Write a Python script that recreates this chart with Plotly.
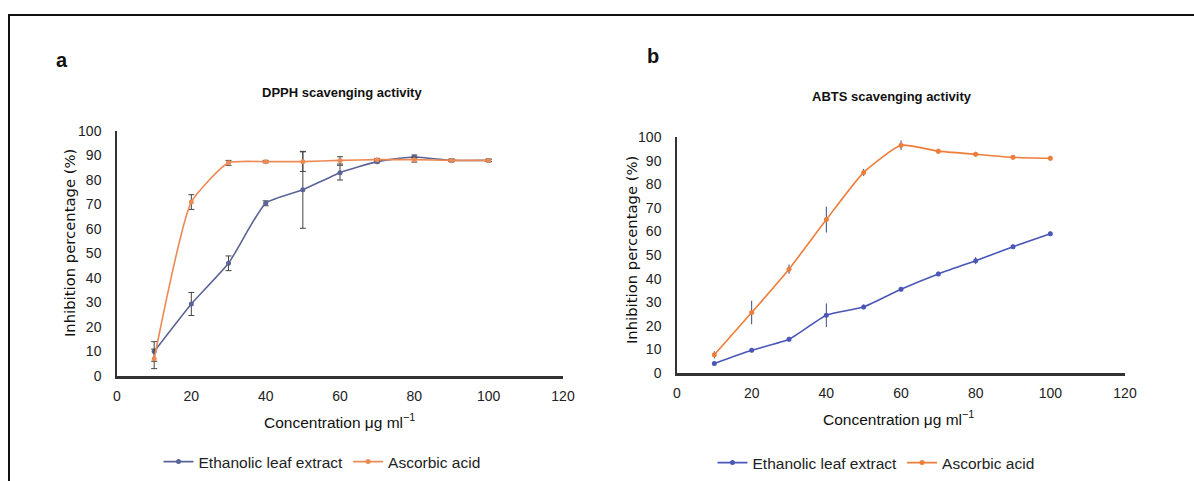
import plotly.graph_objects as go

conc = [10, 20, 30, 40, 50, 60, 70, 80, 90, 100]

# Panel a: DPPH scavenging activity
dpph_ext = [10, 29.4, 46, 70.5, 76, 83, 87.5, 89.4, 88, 88]
dpph_ext_err = [4, 4.7, 3, 1, 15.7, 3, 0.5, 0.8, 0.5, 0.5]
dpph_asc = [7, 71, 87, 87.5, 87.5, 88, 88.3, 88.3, 88, 88]
dpph_asc_err = [4, 3, 1, 0.5, 4, 1.5, 0.5, 1, 0.5, 0.5]

# Panel b: ABTS scavenging activity
abts_ext = [4, 9.6, 14.3, 24.5, 28, 35.5, 42, 47.6, 53.5, 59]
abts_ext_err = [0.8, 0.8, 1, 5, 1, 1, 1, 1.5, 1, 1]
abts_asc = [7.7, 25.6, 44, 65, 85, 96.5, 94, 92.7, 91.4, 91]
abts_asc_err = [1.5, 5, 2, 5.5, 1.5, 2, 1, 1, 1, 1]

x_ticks = [0, 20, 40, 60, 80, 100, 120]
y_ticks = [0, 10, 20, 30, 40, 50, 60, 70, 80, 90, 100]

W, H = 1194, 481
REG = "Liberation Sans, Arial, sans-serif"
WIDE = "DejaVu Sans, Verdana, sans-serif"

BLUE_A = "#5b6496"
ORANGE_A = "#ec8a55"
BLUE_B = "#4a57b8"
ORANGE_B = "#ee7d3a"

fig = go.Figure()

def add(x, y, err, name, color, xa, ya, legend, errcolor, cap):
    fig.add_trace(go.Scatter(
        x=x, y=y, name=name, mode="lines+markers",
        line=dict(color=color, width=1.6, shape="spline", smoothing=0.5),
        marker=dict(color=color, size=5),
        error_y=dict(type="data", array=err, visible=True, color=errcolor,
                     thickness=1, width=cap),
        xaxis=xa, yaxis=ya, legend=legend,
    ))

add(conc, dpph_ext, dpph_ext_err, "Ethanolic leaf extract", BLUE_A, "x", "y", "legend", "#444", 3)
add(conc, dpph_asc, dpph_asc_err, "Ascorbic acid", ORANGE_A, "x", "y", "legend", "#444", 3)
add(conc, abts_ext, abts_ext_err, "Ethanolic leaf extract", BLUE_B, "x2", "y2", "legend2", "#3a4a8a", 0)
add(conc, abts_asc, abts_asc_err, "Ascorbic acid", ORANGE_B, "x2", "y2", "legend2", "#3a4a8a", 0)

def px(v):
    return v / W

def py(v):
    return 1 - v / H

axis_common = dict(showgrid=False, zeroline=False, ticks="outside", showline=True,
                   tickcolor="rgba(0,0,0,0)", linecolor="#333",
                   tickfont=dict(family=REG, size=14, color="#222"))

fig.update_layout(
    width=W, height=H,
    margin=dict(l=0, r=0, t=0, b=0, autoexpand=False),
    paper_bgcolor="white", plot_bgcolor="white",
    font=dict(family=REG, color="#222"),
    xaxis=dict(domain=[px(117), px(563)], range=[0, 120], tickvals=x_ticks, ticklen=5,
               anchor="y", linewidth=2.5, **axis_common),
    yaxis=dict(domain=[py(376), py(131)], range=[0, 100], tickvals=y_ticks, ticklen=11,
               anchor="x", linewidth=1.5, **axis_common),
    xaxis2=dict(domain=[px(677), px(1125)], range=[0, 120], tickvals=x_ticks, ticklen=5,
                anchor="y2", linewidth=2.5, **axis_common),
    yaxis2=dict(domain=[py(373), py(137)], range=[0, 100], tickvals=y_ticks, ticklen=11,
                anchor="x2", linewidth=1.5, **axis_common),
    legend=dict(orientation="h", x=px(322), xanchor="center", y=py(462), yanchor="middle",
                font=dict(family=REG, size=15.5, color="#222"), bgcolor="rgba(0,0,0,0)",
                itemwidth=30),
    legend2=dict(orientation="h", x=px(876), xanchor="center", y=py(463), yanchor="middle",
                 font=dict(family=REG, size=15.5, color="#222"), bgcolor="rgba(0,0,0,0)",
                 itemwidth=30),
    showlegend=True,
)

ann = [
    dict(text="<b>a</b>", x=px(62), y=py(60), size=20, fam=REG),
    dict(text="<b>b</b>", x=px(653), y=py(56), size=20, fam=REG),
    dict(text="<b>DPPH scavenging activity</b>", x=px(342), y=py(93), size=13, fam=REG),
    dict(text="<b>ABTS scavenging activity</b>", x=px(892), y=py(97), size=13, fam=REG),
    dict(text="Concentration μg ml<sup>−1</sup>", x=px(340), y=py(421), size=15.5, fam=REG),
    dict(text="Concentration μg ml<sup>−1</sup>", x=px(898), y=py(418), size=15.5, fam=REG),
]
for a in ann:
    fig.add_annotation(text=a["text"], x=a["x"], y=a["y"], xref="paper", yref="paper",
                       showarrow=False, xanchor="center", yanchor="middle",
                       font=dict(family=a["fam"], size=a["size"], color="#111"))

for xx, yy in [(69, 243), (631, 250)]:
    fig.add_annotation(text="Inhibition percentage (%)", x=px(xx), y=py(yy),
                       xref="paper", yref="paper", showarrow=False, textangle=-90,
                       xanchor="center", yanchor="middle",
                       font=dict(family=WIDE, size=14.8, color="#111"))

fig.add_shape(type="rect", xref="paper", yref="paper",
              x0=px(9), y0=-0.2, x1=1.2, y1=py(15),
              line=dict(color="#111", width=2), fillcolor="rgba(0,0,0,0)")

fig.write_html(
    "out.html",
    config={"displayModeBar": False},
    post_script="document.body.style.margin='0';"
                "document.documentElement.style.overflow='hidden';"
                "document.body.style.overflow='hidden';",
)
